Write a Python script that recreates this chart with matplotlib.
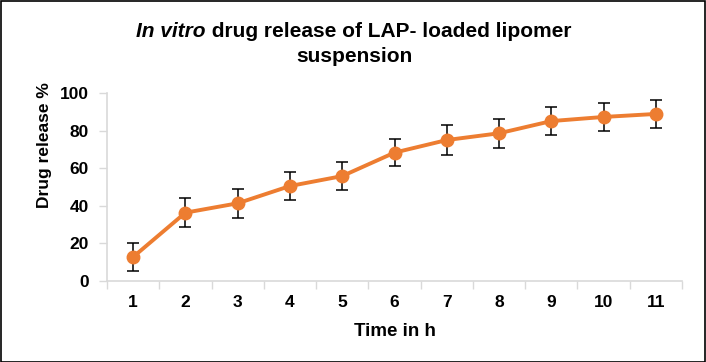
import matplotlib
matplotlib.use("Agg")
import matplotlib.pyplot as plt
from matplotlib.patches import Rectangle

# Data
time_h = [1, 2, 3, 4, 5, 6, 7, 8, 9, 10, 11]
release = [12.8, 36.4, 41.4, 50.6, 55.9, 68.4, 75.1, 78.7, 85.2, 87.4, 89.0]
errors = [7.4, 7.6, 7.6, 7.3, 7.5, 7.1, 7.9, 7.8, 7.3, 7.3, 7.3]
y_ticks = [0, 20, 40, 60, 80, 100]

plt.rcParams['font.family'] = ['Liberation Sans', 'DejaVu Sans']

W, H = 706, 362
fig = plt.figure(figsize=(W / 100, H / 100), dpi=100)
fig.patch.set_facecolor('white')

left, right, bottom, top = 107, 682, 281, 93.3
ax = fig.add_axes([left / W, 1 - bottom / H, (right - left) / W, (bottom - top) / H])

orange = '#ED7D31'
gray = '#D9D9D9'

ax.errorbar(time_h, release, yerr=errors, fmt='none', ecolor='black',
            elinewidth=1.1, capsize=4, capthick=1.1, zorder=2)
ax.plot(time_h, release, color=orange, linewidth=2.8, marker='o',
        markersize=9, markerfacecolor=orange, markeredgecolor=orange, zorder=3)

ax.set_xlim(0.5, len(time_h) + 0.5)
ax.set_ylim(0, 100)
ax.set_yticks(y_ticks)
ax.set_xticks(time_h)
ax.set_xticklabels([str(t) for t in time_h])
# between-category tick marks
ax.set_xticks([i + 0.5 for i in range(0, len(time_h) + 1)], minor=True)
ax.tick_params(axis='x', which='major', length=0, pad=10, labelsize=12.5)
ax.tick_params(axis='x', which='minor', length=6, width=1, color=gray, direction='out')
ax.tick_params(axis='y', which='major', length=6, width=1, color=gray, pad=7, labelsize=12.5)
for lab in ax.get_xticklabels() + ax.get_yticklabels():
    lab.set_fontweight('bold')

for s in ['top', 'right']:
    ax.spines[s].set_visible(False)
for s in ['left', 'bottom']:
    ax.spines[s].set_color(gray)
    ax.spines[s].set_linewidth(1.2)

# Axis labels
fig.text(395 / W, 1 - 336.5 / H, 'Time in h', ha='center', va='baseline',
         fontsize=13.5, fontweight='bold')
fig.text(44 / W, 1 - 145 / H, 'Drug release %', ha='center', va='center',
         rotation=90, fontsize=12.5, fontweight='bold')

# Title (mixed italic)
fig.canvas.draw()
renderer = fig.canvas.get_renderer()
y1 = 1 - 37 / H
tfs = 15
t_a = fig.text(0, y1, 'In vitro', fontsize=tfs, fontweight='bold', style='italic',
               ha='left', va='baseline')
t_b = fig.text(0, y1, ' drug release of LAP- loaded lipomer', fontsize=tfs,
               fontweight='bold', ha='left', va='baseline')
wa = t_a.get_window_extent(renderer).width
wb = t_b.get_window_extent(renderer).width
start = (W / 2 - (wa + wb) / 2 + 1)
t_a.set_x(start / W)
t_b.set_x((start + wa) / W)
fig.text(0.5 + 1 / W, 1 - 61.5 / H, 'suspension', fontsize=tfs, fontweight='bold',
         ha='center', va='baseline')

# Outer border
fig.patches.append(Rectangle((0.5 / W, 0.5 / H), (W - 1.5) / W, (H - 1.5) / H,
                             transform=fig.transFigure, fill=False,
                             edgecolor='black', linewidth=1.2))

fig.savefig('out.png', dpi=100)
